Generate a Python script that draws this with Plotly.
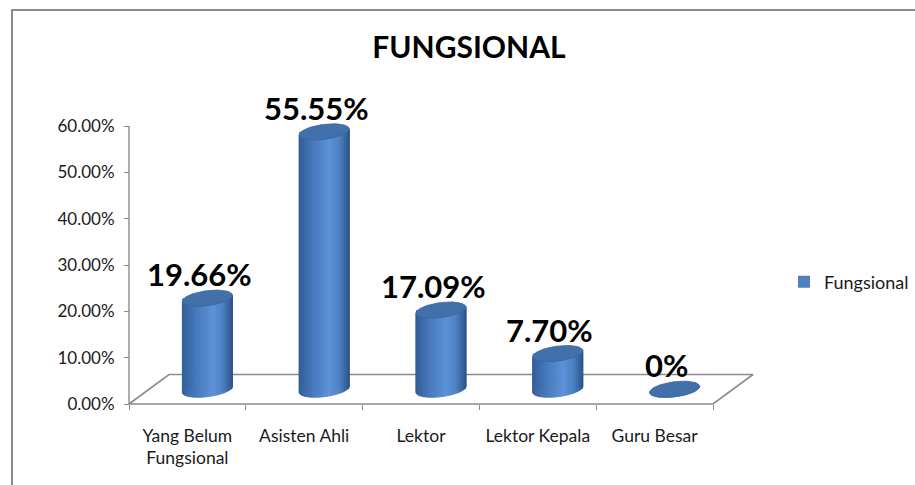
import numpy as np
import plotly.graph_objects as go

# ---------------- data ----------------
categories = ["Yang Belum<br>Fungsional", "Asisten Ahli", "Lektor", "Lektor Kepala", "Guru Besar"]
values = [0.1966, 0.5555, 0.1709, 0.0770, 0.0]
value_labels = ["19.66%", "55.55%", "17.09%", "7.70%", "0%"]
y_ticks = [0.0, 0.1, 0.2, 0.3, 0.4, 0.5, 0.6]
series_name = "Fungsional"
title_text = "FUNGSIONAL"

# ---------------- geometry (pixels) ----------------
W, H = 915, 485
PX_X = 116.8          # pixels per category
PX_Y = 463.33         # pixels per 1.0 (100%)
X0_PX, Y0_PX = 129, 404
PL, PR, PT, PB = 120, 775, 100, 420   # plot-area box in px
BACK_DX, BACK_DY = 40, 29.5           # floor depth offset in px
RAD_X, RAD_Y, TILT = 25, 7.5, 3       # cylinder ellipse radii / tilt in px
N_STRIPS = 28

xr = [(PL - X0_PX) / PX_X, (PR - X0_PX) / PX_X]
yr = [(Y0_PX - PB) / PX_Y, (Y0_PX - PT) / PX_Y]
n = len(categories)

dx_mid = BACK_DX / 2 / PX_X
dy_mid = BACK_DY / 2 / PX_Y
centers = [i + 0.5 + dx_mid for i in range(n)]
base = dy_mid


def ell(cx, level, th):
    x = cx + RAD_X * np.cos(th) / PX_X
    y = level + (-RAD_Y * np.sin(th) + TILT * np.cos(th)) / PX_Y
    return x, y


def hex2rgb(h):
    h = h.lstrip("#")
    return np.array([int(h[i:i + 2], 16) for i in (0, 2, 4)], dtype=float)


stops_u = [-1.0, -0.5, 0.2, 0.6, 1.0]
stops_c = [hex2rgb(c) for c in ["#33609B", "#4677BA", "#5D93D8", "#4C80C3", "#2C5488"]]


def shade(u):
    rgb = [np.interp(u, stops_u, [c[k] for c in stops_c]) for k in range(3)]
    return "rgb(%d,%d,%d)" % tuple(int(round(v)) for v in rgb)


fig = go.Figure()

# floor
fx = [0, n, n + BACK_DX / PX_X, BACK_DX / PX_X, 0]
fy = [0, 0, BACK_DY / PX_Y, BACK_DY / PX_Y, 0]
fig.add_trace(go.Scatter(x=fx, y=fy, mode="lines", line=dict(color="#8a8a8a", width=1.6),
                         showlegend=False, hoverinfo="skip"))

# bar trace (legend carrier, hidden under the cylinder shading)
fig.add_trace(go.Bar(x=centers, y=values, base=[base] * n, width=2 * RAD_X / PX_X,
                     marker=dict(color="#4F81BD", line=dict(width=0)), name=series_name,
                     showlegend=True, hoverinfo="skip"))

# cylinder body strips
thetas = np.linspace(0, np.pi, N_STRIPS + 1)
for k in range(N_STRIPS):
    t = np.linspace(thetas[k], thetas[k + 1], 4)
    u = np.cos((thetas[k] + thetas[k + 1]) / 2)
    col = shade(u)
    xs, ys = [], []
    for cx, v in zip(centers, values):
        bx, by = ell(cx, base, t)
        tx, ty = ell(cx, base + v, t[::-1])
        xs += list(bx) + list(tx) + [bx[0], None]
        ys += list(by) + list(ty) + [by[0], None]
    fig.add_trace(go.Scatter(x=xs, y=ys, mode="lines", fill="toself", fillcolor=col,
                             line=dict(color=col, width=0.8), showlegend=False, hoverinfo="skip"))

# top ellipses
tt = np.linspace(0, 2 * np.pi, 60)
xs, ys = [], []
for cx, v in zip(centers, values):
    ex, ey = ell(cx, base + v, tt)
    xs += list(ex) + [None]
    ys += list(ey) + [None]
fig.add_trace(go.Scatter(x=xs, y=ys, mode="lines", fill="toself", fillcolor="#4270AB",
                         line=dict(color="#3A659F", width=0.8), showlegend=False, hoverinfo="skip"))

# y axis line
fig.add_shape(type="line", xref="x", yref="y", x0=0, x1=0, y0=0, y1=max(y_ticks),
              line=dict(color="#8a8a8a", width=1.4))

# value labels
for cx, v, lab in zip(centers, values, value_labels):
    fig.add_annotation(x=cx, y=base + v, text="<b>%s</b>" % lab, showarrow=False,
                       xshift=-8, yshift=24, yanchor="middle",
                       font=dict(family="Lato", size=31, color="#000000"))

# outer chart border
pw, ph = PR - PL, PB - PT
fig.add_shape(type="rect", xref="paper", yref="paper",
              x0=(12 - PL) / pw, x1=(940 - PL) / pw, y0=(PB - 510) / ph, y1=(PB - 10) / ph,
              line=dict(color="#8a8a8a", width=2), fillcolor="rgba(0,0,0,0)")

fig.update_layout(
    width=W, height=H,
    margin=dict(l=PL, r=W - PR, t=PT, b=H - PB, autoexpand=False),
    paper_bgcolor="white", plot_bgcolor="white",
    font=dict(family="Lato", color="#1a1a1a"),
    title=dict(text="<b>%s</b>" % title_text, xref="container", yref="container",
               x=469 / W, y=1 - 47 / H, xanchor="center", yanchor="middle",
               font=dict(family="Lato", size=30, color="#000000")),
    xaxis=dict(range=xr, anchor="free", position=(PB - Y0_PX) / ph, showline=False,
               showgrid=False, zeroline=False, tickmode="array",
               tickvals=[i + 0.5 for i in range(n)], ticktext=categories,
               ticks="", ticklabelstandoff=19, tickfont=dict(size=17.5),
               minor=dict(tickmode="array", tickvals=list(range(n + 1)), ticks="outside",
                          ticklen=5, tickcolor="#8a8a8a", tickwidth=1.4, showgrid=False)),
    yaxis=dict(range=yr, anchor="free", position=(X0_PX - PL) / pw, showline=False,
               showgrid=False, zeroline=False, tickmode="array", tickvals=y_ticks,
               tickformat=".2%", ticks="outside", ticklen=5, tickcolor="#8a8a8a",
               tickwidth=1.4, ticklabelstandoff=6, tickfont=dict(size=17)),
    barmode="overlay",
    showlegend=True,
    legend=dict(x=(784 - PL) / pw, y=(PB - 282) / ph, xanchor="left", yanchor="middle",
                font=dict(family="Lato", size=18, color="#1a1a1a"), bgcolor="rgba(0,0,0,0)"),
)

fig.write_html("out.html", config={"displayModeBar": False},
               post_script="document.body.style.margin='0';")
